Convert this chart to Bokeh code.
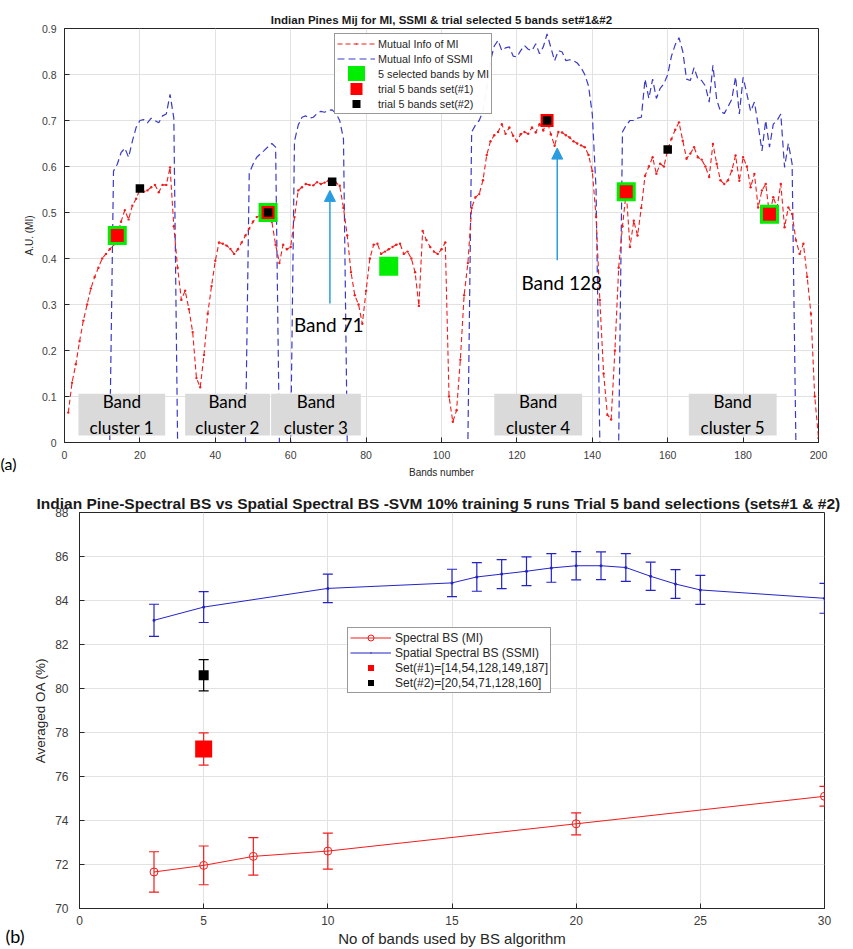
import math
from bokeh.plotting import figure
from bokeh.layouts import column, row
from bokeh.models import (Range1d, SingleIntervalTicker, Legend, LegendItem, Arrow, Label,
                          NormalHead, ColumnDataSource, Whisker, TeeHead)
from bokeh.core.properties import value
from bokeh.embed import file_html
from bokeh.resources import INLINE

# ---------------- data: panel (a) ----------------
bands = list(range(1, 201))
mi = [
    0.065, 0.13, 0.17, 0.22, 0.265, 0.30, 0.335, 0.36, 0.38, 0.40,
    0.41, 0.42, 0.43, 0.45, 0.48, 0.505, 0.485, 0.515, 0.53, 0.55,
    0.545, 0.548, 0.555, 0.56, 0.544, 0.56, 0.56, 0.598, 0.47, 0.38,
    0.31, 0.33, 0.29, 0.24, 0.14, 0.12, 0.19, 0.28, 0.34, 0.395,
    0.435, 0.432, 0.428, 0.421, 0.41, 0.42, 0.435, 0.45, 0.465, 0.48,
    0.49, 0.495, 0.498, 0.50, 0.48, 0.43, 0.39, 0.43, 0.42, 0.425,
    0.49, 0.548, 0.555, 0.562, 0.56, 0.559, 0.566, 0.562, 0.565, 0.569,
    0.567, 0.565, 0.558, 0.51, 0.45, 0.37, 0.32, 0.30, 0.258, 0.33,
    0.40, 0.43, 0.432, 0.41, 0.415, 0.42, 0.425, 0.43, 0.432, 0.41,
    0.415, 0.40, 0.37, 0.297, 0.46, 0.44, 0.425, 0.415, 0.41, 0.42,
    0.435, 0.10, 0.045, 0.07, 0.18, 0.32, 0.39, 0.51, 0.533, 0.54,
    0.57, 0.625, 0.655, 0.668, 0.675, 0.692, 0.671, 0.685, 0.667, 0.655,
    0.67, 0.675, 0.671, 0.685, 0.674, 0.692, 0.678, 0.70, 0.67, 0.645,
    0.675, 0.674, 0.668, 0.663, 0.655, 0.65, 0.646, 0.642, 0.625, 0.59,
    0.49, 0.31, 0.15, 0.06, 0.05, 0.20, 0.38, 0.47, 0.545, 0.425,
    0.482, 0.45, 0.51, 0.58, 0.60, 0.62, 0.584, 0.606, 0.60, 0.637,
    0.66, 0.68, 0.696, 0.656, 0.617, 0.628, 0.642, 0.62, 0.615, 0.60,
    0.577, 0.649, 0.606, 0.57, 0.562, 0.57, 0.591, 0.624, 0.569, 0.62,
    0.60, 0.555, 0.584, 0.511, 0.548, 0.562, 0.495, 0.533, 0.511, 0.562,
    0.468, 0.511, 0.497, 0.44, 0.41, 0.432, 0.36, 0.28, 0.10, 0.01,
]
ssmi = [
    0, 0, 0, 0, 0, 0, 0, 0, 0, 0,
    0, 0, 0.59, 0.605, 0.63, 0.64, 0.62, 0.655, 0.685, 0.70,
    0.702, 0.695, 0.705, 0.70, 0.695, 0.71, 0.714, 0.757, 0.705, 0,
    0, 0, 0, 0, 0, 0, 0, 0, 0, 0,
    0, 0, 0, 0, 0, 0, 0, 0, 0.585, 0.605,
    0.62, 0.628, 0.635, 0.643, 0.65, 0.642, 0, 0, 0, 0,
    0.655, 0.69, 0.707, 0.71, 0.705, 0.707, 0.715, 0.72, 0.718, 0.722,
    0.723, 0.715, 0.70, 0.66, 0, 0, 0, 0, 0, 0,
    0, 0, 0, 0, 0, 0, 0, 0, 0, 0,
    0, 0, 0, 0, 0, 0, 0, 0, 0, 0,
    0, 0, 0, 0, 0, 0, 0, 0.675, 0.69, 0.70,
    0.72, 0.77, 0.83, 0.862, 0.874, 0.852, 0.858, 0.86, 0.84, 0.838,
    0.852, 0.863, 0.855, 0.852, 0.867, 0.845, 0.86, 0.888, 0.859, 0.83,
    0.852, 0.849, 0.83, 0.832, 0.83, 0.825, 0.815, 0.80, 0.775, 0.714,
    0.55, 0, 0, 0, 0, 0, 0, 0.675, 0.69, 0.70,
    0.70, 0.705, 0.707, 0.79, 0.748, 0.79, 0.748, 0.77, 0.78, 0.80,
    0.84, 0.865, 0.88, 0.85, 0.79, 0.787, 0.815, 0.79, 0.787, 0.775,
    0.74, 0.82, 0.745, 0.72, 0.715, 0.73, 0.746, 0.795, 0.714, 0.794,
    0.758, 0.72, 0.74, 0.69, 0.634, 0.70, 0.642, 0.692, 0.70, 0.714,
    0.598, 0.65, 0.606, 0, 0, 0, 0, 0, 0, 0,
]
mi_sel_bands = [14, 54, 86, 149, 187]
mi_sel_vals = [0.45, 0.50, 0.383, 0.545, 0.496]
set1_bands = [14, 54, 128, 149, 187]
set1_vals = [0.45, 0.50, 0.70, 0.545, 0.496]
set2_bands = [20, 54, 71, 128, 160]
set2_vals = [0.552, 0.50, 0.567, 0.70, 0.637]

cluster_names = ["Band\ncluster 1", "Band\ncluster 2", "Band\ncluster 3", "Band\ncluster 4", "Band\ncluster 5"]
cluster_left = [3.7, 32.0, 54.8, 114.0, 165.6]
cluster_right = [26.7, 54.5, 78.6, 137.3, 188.9]
cluster_bottom = [0.015, 0.015, 0.015, 0.015, 0.015]
cluster_top = [0.106, 0.106, 0.106, 0.106, 0.106]

note_text = ["Band 71", "Band 128"]
note_x = [70.1, 131.9]
note_y = [0.257, 0.348]
arrow_x = [70.4, 130.7]
arrow_y0 = [0.302, 0.396]
arrow_y1 = [0.548, 0.640]

# ---------------- data: panel (b) ----------------
mi_nb = [3, 5, 7, 10, 20, 30]
mi_oa = [71.66, 71.96, 72.37, 72.61, 73.85, 75.10]
mi_err = [0.92, 0.88, 0.85, 0.82, 0.50, 0.45]
ssmi_nb = [3, 5, 10, 15, 16, 17, 18, 19, 20, 21, 22, 23, 24, 25, 30]
ssmi_oa = [83.10, 83.70, 84.55, 84.80, 85.07, 85.20, 85.33, 85.48, 85.58, 85.58, 85.50, 85.10, 84.75, 84.48, 84.10]
ssmi_err = [0.73, 0.70, 0.65, 0.62, 0.65, 0.66, 0.65, 0.65, 0.64, 0.63, 0.63, 0.64, 0.65, 0.66, 0.68]
set1_nb = [5]
set1_oa = [77.25]
set1_err = [0.73]
set2_nb = [5]
set2_oa = [80.60]
set2_err = [0.71]

TITLE_A = "Indian Pines Mij for MI, SSMI & trial selected 5 bands set#1&#2"
TITLE_B = "Indian Pine-Spectral BS vs Spatial Spectral BS -SVM 10% training 5 runs Trial 5 band selections (sets#1 & #2)"

RED = "#f21c1c"
BLUE_A = "#3a3ac8"
GREEN = "#00ee00"
ARROW_C = "#2a9de0"
BLUE_B = "#2323c8"
AXC = "#262626"
TICKC = "#3c3c3c"
GRIDC = "#e2e2e2"


def style(p, xint, yint, tick_size, label_size):
    p.xaxis.ticker = SingleIntervalTicker(interval=xint)
    p.yaxis.ticker = SingleIntervalTicker(interval=yint)
    for ax in (p.xaxis[0], p.yaxis[0]):
        ax.major_tick_in = 5
        ax.major_tick_out = 0
        ax.minor_tick_line_color = None
        ax.axis_line_color = AXC
        ax.major_tick_line_color = AXC
        ax.major_label_text_font = "Liberation Sans"
        ax.major_label_text_font_size = tick_size
        ax.major_label_text_color = TICKC
        ax.axis_label_text_font = "Liberation Sans"
        ax.axis_label_text_font_size = label_size
        ax.axis_label_text_font_style = "normal"
        ax.axis_label_text_color = AXC
        ax.major_label_standoff = 4
        ax.axis_label_standoff = 5
    p.grid.grid_line_color = GRIDC
    p.outline_line_color = AXC
    p.outline_line_alpha = 1
    p.background_fill_color = "white"
    p.border_fill_color = "white"
    p.frame_align = False


def tag_strip(text, width, height, x, y_from_bottom, size):
    # narrow blank figure that carries the panel tag "(a)" / "(b)"
    t = figure(width=width, height=height, x_range=Range1d(0, 1), y_range=Range1d(0, 1),
               output_backend="svg", toolbar_location=None, min_border=0,
               x_axis_type=None, y_axis_type=None)
    t.grid.visible = False
    t.outline_line_color = None
    t.background_fill_color = "white"
    t.border_fill_color = "white"
    t.frame_align = False
    t.add_layout(Label(x=x, y=y_from_bottom, x_units="screen", y_units="screen", text=text,
                       text_font="Lato", text_font_size=size, text_baseline="middle",
                       text_align="left", text_color="black"))
    return t


# ================= panel (a) =================
TAG_W_A = 20
p1 = figure(width=845 - TAG_W_A, height=480, x_range=Range1d(0, 200), y_range=Range1d(0, 0.9),
            output_backend="svg", toolbar_location=None, title=TITLE_A,
            min_border_left=62 - TAG_W_A, min_border_right=27, min_border_top=28, min_border_bottom=38)
style(p1, 20, 0.1, "10.5px", "10px")
p1.xaxis.axis_label = "Bands number"
p1.yaxis.axis_label = "A.U. (MI)"
p1.yaxis.major_label_overrides = {0: "0"}
p1.yaxis.axis_label_standoff = 4
p1.title.align = "center"
p1.title.text_font = "Liberation Sans"
p1.title.text_font_size = "11.5px"
p1.title.text_font_style = "bold"
p1.title.text_color = "#1a1a1a"
p1.title.standoff = 5

r_ss = p1.line(bands, ssmi, line_color=BLUE_A, line_dash="7 4", line_width=1.2)
r_mi = p1.line(bands, mi, line_color=RED, line_dash="5 3", line_width=1.1)
r_mid = p1.scatter(bands, mi, marker="circle", size=2.4, fill_color=RED, line_color=None)
r_g = p1.scatter(mi_sel_bands, mi_sel_vals, marker="square", size=19, fill_color=GREEN, line_color=None)
r_r = p1.scatter(set1_bands, set1_vals, marker="square", size=13, fill_color="#ff0000", line_color=None)
r_k = p1.scatter(set2_bands, set2_vals, marker="square", size=8.5, fill_color="black", line_color=None)

cl_src = ColumnDataSource(dict(left=cluster_left, right=cluster_right, bottom=cluster_bottom,
                               top=cluster_top, name=cluster_names,
                               cx=[(a + b) / 2 for a, b in zip(cluster_left, cluster_right)],
                               cy=[(a + b) / 2 for a, b in zip(cluster_bottom, cluster_top)]))
p1.quad(left="left", right="right", bottom="bottom", top="top", source=cl_src,
        fill_color="#dadada", line_color=None)
p1.text(x="cx", y="cy", text="name", source=cl_src, text_font=value("Lato"),
        text_font_size="17px", text_align="center", text_baseline="middle",
        text_line_height=1.22, text_color="black")

p1.text(x=note_x, y=note_y, text=note_text, text_font=value("Lato"), text_font_size="19px",
        text_align="center", text_baseline="middle", text_color="black")
arr_src = ColumnDataSource(dict(x=arrow_x, y0=arrow_y0, y1=arrow_y1))
p1.add_layout(Arrow(x_start="x", y_start="y0", x_end="x", y_end="y1", source=arr_src,
                    line_color=ARROW_C, line_width=1.5,
                    end=NormalHead(size=11, fill_color=ARROW_C, line_color=ARROW_C)))

# legend-only renderers (hidden from the plot, drawn in the legend)
lg_dot = p1.scatter(bands, mi, marker="dot", size=7, line_color=RED, fill_color=RED, visible=False)
lg_g = p1.scatter(mi_sel_bands, mi_sel_vals, marker="square", size=7, fill_color=GREEN,
                  line_color=GREEN, line_width=11, line_join="miter", visible=False)
lg_r = p1.scatter(set1_bands, set1_vals, marker="square", size=7, fill_color="#ff0000",
                  line_color="#ff0000", line_width=6, line_join="miter", visible=False)
lg_k = p1.scatter(set2_bands, set2_vals, marker="square", size=7, fill_color="black",
                  line_color="black", line_width=2, line_join="miter", visible=False)
leg1 = Legend(items=[
    LegendItem(label="Mutual Info of MI", renderers=[r_mi, lg_dot]),
    LegendItem(label="Mutual Info of SSMI", renderers=[r_ss]),
    LegendItem(label="5 selected bands by MI", renderers=[lg_g]),
    LegendItem(label="trial 5 bands set(#1)", renderers=[lg_r]),
    LegendItem(label="trial 5 bands set(#2)", renderers=[lg_k]),
], location=(270, 328), glyph_width=38, glyph_height=15, label_height=12, spacing=0,
    padding=2, label_standoff=3, label_text_font="Liberation Sans", label_text_font_size="10.8px",
    label_text_color=AXC, border_line_color="#333333", border_line_width=1, margin=0,
    inactive_fill_alpha=0)
p1.add_layout(leg1)
tag_a = tag_strip("(a)", TAG_W_A, 480, 0, 17, "16px")

# ================= panel (b) =================
TAG_W_B = 30
p2 = figure(width=845 - TAG_W_B, height=469, x_range=Range1d(0, 30), y_range=Range1d(70, 88),
            output_backend="svg", toolbar_location=None, title=TITLE_B,
            min_border_left=75 - TAG_W_B, min_border_right=21, min_border_top=32, min_border_bottom=39)
style(p2, 5, 2, "12px", "13.5px")
p2.xaxis.axis_label = "No of bands used by BS algorithm"
p2.xaxis.axis_label_text_font_size = "15px"
p2.yaxis.axis_label = "Averaged OA (%)"
p2.yaxis.major_label_standoff = 7
p2.yaxis.axis_label_standoff = 4
p2.xaxis.major_label_standoff = 3
p2.xaxis.axis_label_standoff = 2
p2.title.align = "left"
p2.title.offset = -43
p2.title.text_font = "Liberation Sans"
p2.title.text_font_size = "15.5px"
p2.title.text_font_style = "bold"
p2.title.text_color = "#1a1a1a"
p2.title.standoff = 1


def whisk(p, xs, ys, es, color):
    src = ColumnDataSource(dict(x=xs, lo=[y - e for y, e in zip(ys, es)], hi=[y + e for y, e in zip(ys, es)]))
    p.add_layout(Whisker(base="x", lower="lo", upper="hi", source=src, line_color=color, line_width=1.2,
                         lower_head=TeeHead(size=10, line_color=color, line_width=1.2),
                         upper_head=TeeHead(size=10, line_color=color, line_width=1.2)))


whisk(p2, mi_nb, mi_oa, mi_err, RED)
whisk(p2, ssmi_nb, ssmi_oa, ssmi_err, BLUE_B)
whisk(p2, set1_nb, set1_oa, set1_err, RED)
whisk(p2, set2_nb, set2_oa, set2_err, "black")

r2_mi = p2.line(mi_nb, mi_oa, line_color=RED, line_width=1)
r2_mic = p2.scatter(mi_nb, mi_oa, marker="circle", size=8, fill_color=None, line_color=RED, line_width=1)
r2_ss = p2.line(ssmi_nb, ssmi_oa, line_color=BLUE_B, line_width=1)
r2_ssd = p2.scatter(ssmi_nb, ssmi_oa, marker="circle", size=3, fill_color=BLUE_B, line_color=None)
r2_s1 = p2.scatter(set1_nb, set1_oa, marker="square", size=17, fill_color="#ff0000", line_color=None)
r2_s2 = p2.scatter(set2_nb, set2_oa, marker="square", size=10, fill_color="black", line_color=None)
lg2_dot = p2.scatter(ssmi_nb, ssmi_oa, marker="dot", size=7, line_color=BLUE_B, fill_color=BLUE_B, visible=False)

leg2 = Legend(items=[
    LegendItem(label="Spectral BS (MI)", renderers=[r2_mi, r2_mic]),
    LegendItem(label="Spatial Spectral BS (SSMI)", renderers=[r2_ss, lg2_dot]),
    LegendItem(label="Set(#1)=[14,54,128,149,187]", renderers=[r2_s1]),
    LegendItem(label="Set(#2)=[20,54,71,128,160]", renderers=[r2_s2]),
], location=(268, 215), glyph_width=41, glyph_height=15, label_height=12, spacing=0,
    padding=2, label_standoff=4, label_text_font="Liberation Sans", label_text_font_size="12px",
    label_text_color=AXC, border_line_color="#333333", border_line_width=1, margin=0,
    inactive_fill_alpha=0)
p2.add_layout(leg2)
tag_b = tag_strip("(b)", TAG_W_B, 469, 5, 469 - 935 + 480, "18px")

layout = column(row(tag_a, p1, spacing=0), row(tag_b, p2, spacing=0), spacing=0)
open("out.html", "w").write(file_html(layout, INLINE))
